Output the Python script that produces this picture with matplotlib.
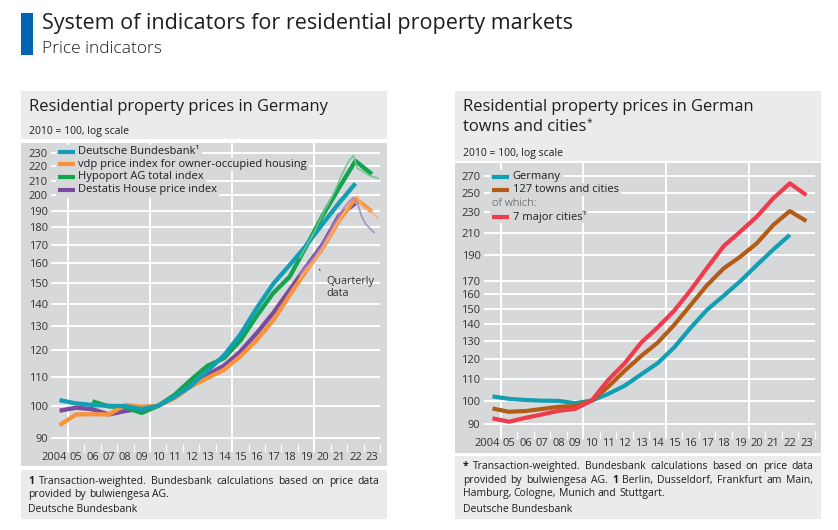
import matplotlib
matplotlib.use('Agg')
import matplotlib.pyplot as plt
from matplotlib.patches import Rectangle
from matplotlib.lines import Line2D
from matplotlib.ticker import NullLocator, NullFormatter
import matplotlib.transforms as mtransforms

plt.rcParams['font.family'] = ['Open Sans', 'DejaVu Sans']

# ---------------- data, 2010 = 100 ----------------
years = list(range(2004, 2024))

# left chart: annual averages
bundesbank = [101.9, 100.8, 100.3, 100.0, 99.9, 98.9, 100.0, 103.0, 106.8, 112.3,
              118.0, 126.5, 138.0, 149.5, 159.0, 169.5, 182.0, 195.0, 208.0]          # 2004-2022
vdp = [93.8, 97.2, 97.3, 97.2, 100.3, 99.7, 100.0, 102.6, 106.6, 109.6,
       112.6, 117.7, 124.3, 132.5, 144.0, 156.0, 168.0, 184.0, 198.0, 189.5]          # 2004-2023
hypoport_years = list(range(2006, 2024))
hypoport = [101.5, 99.8, 99.5, 97.7, 100.0, 103.7, 109.0, 114.1, 117.0,
            124.0, 134.5, 145.0, 153.0, 169.0, 187.0, 205.0, 224.0, 214.5]            # 2006-2023
destatis = [98.4, 99.4, 98.9, 97.2, 98.3, 99.1, 100.0, 103.1, 107.5, 110.8,
            114.1, 119.6, 127.1, 135.8, 146.5, 158.0, 170.0, 187.0, 195.0]            # 2004-2022

# left chart: quarterly data
quarters = [f'{y}Q{q}' for y in range(2019, 2024) for q in range(1, 5)]
vdp_q = [152, 155, 157.5, 160, 163, 166, 170, 174, 178, 182, 186, 190,
         195.5, 198.5, 199.5, 193.5, 191.5, 190.5, 188, 185.5]
hypoport_q = [163, 167, 171, 175, 180, 185, 190, 195, 200, 206, 213, 219,
              224.5, 228, 218.5, 217, 215, 213.5, 212.5, 211.5]
destatis_q = [154, 157, 159.5, 162, 165, 168, 172, 176, 181, 185, 189.5, 193,
              196, 198.5, 195, 186.5, 182, 179.5, 177]                                 # to 2023Q3

# right chart
germany = bundesbank
towns127 = [96.6, 95.2, 95.5, 96.4, 97.3, 97.6, 100.0, 106.3, 114.1, 121.8,
            129.2, 139.7, 152.6, 166.7, 179.4, 188.9, 200.4, 217.3, 231.1, 221.1]
cities7 = [92.5, 91.1, 92.7, 94.1, 95.6, 96.4, 100.0, 109.5, 117.9, 129.2,
           138.2, 148.8, 163.0, 180.0, 198.0, 211.0, 225.4, 244.5, 261.2, 248.0]

ticks_left = [90, 100, 110, 120, 130, 140, 150, 160, 170, 180, 190, 200, 210, 220, 230]
ticks_right = [90, 100, 110, 120, 130, 140, 150, 160, 170, 190, 210, 230, 250, 270]
year_labels = ['2004'] + [f'{y % 100:02d}' for y in range(2005, 2024)]

# ---------------- colours ----------------
BLUE = '#0066b3'
CHART_BG = '#d7d8da'
BOX_BG = '#ebebeb'
TXT = '#1e1e1e'
TICK = '#333333'
TEAL = '#139fb3'
ORANGE = '#f8923b'
GREEN = '#13a450'
PURPLE = '#7a4a9e'
ORANGE_L = '#fbb27a'
GREEN_L = '#6cc68c'
PURPLE_L = '#a687c6'
BROWN = '#b25c16'
RED = '#ef3b4c'

FOOT = 7.5

W, H = 838, 530
fig = plt.figure(figsize=(W / 100, H / 100), dpi=100)
renderer = fig.canvas.get_renderer()


def fx(x):
    return x / W


def fy(y):
    return 1 - y / H


def box(x0, y0, x1, y1, color, z=-1):
    fig.add_artist(Rectangle((fx(x0), fy(y1)), (x1 - x0) / W, (y1 - y0) / H,
                             transform=fig.transFigure, fc=color, ec='none', zorder=z))


def txt(x, y, s, **kw):
    kw.setdefault('color', TXT)
    kw.setdefault('va', 'baseline')
    return fig.text(fx(x), fy(y), s, **kw)


def wpx(t):
    return t.get_window_extent(renderer).width


def words_line(x0, y, words, size, x1=None):
    # words = [(word, weight)], spread to x1 if given (justified)
    arts = [txt(x0, y, w, fontsize=size, fontweight=wt) for w, wt in words]
    widths = [wpx(a) for a in arts]
    if x1 is None:
        a = txt(0, 0, 'n n', fontsize=size)
        b = txt(0, 0, 'nn', fontsize=size)
        gap = wpx(a) - wpx(b)
        a.remove()
        b.remove()
    else:
        gap = (x1 - x0 - sum(widths)) / (len(arts) - 1)
    x = x0
    for a, wd in zip(arts, widths):
        a.set_x(fx(x))
        x += wd + gap


def plain(s):
    return [(w, 'normal') for w in s.split()]


def legend_row(xs0, xs1, xt, y, color, label, half=6.6, lo=None):
    t = txt(xt, y, label, fontsize=8, va='center', zorder=6)
    wd = wpx(t)
    box(xs0 - 2, y - half, xt + wd + 2, y + (lo if lo else half), CHART_BG, z=5)
    if color:
        fig.add_artist(Line2D([fx(xs0), fx(xs1)], [fy(y), fy(y)], color=color, lw=3,
                              solid_capstyle='butt', zorder=6))
    return t


def setup_axes(ax, ylim, ticks, bottom_off):
    ax.patch.set_visible(False)
    for s in ax.spines.values():
        s.set_visible(False)
    ax.set_yscale('log')
    ax.set_xlim(2004, 2024)
    ax.set_ylim(*ylim)
    ax.set_yticks(ticks)
    ax.set_yticklabels([str(t) for t in ticks])
    ax.yaxis.set_minor_locator(NullLocator())
    ax.yaxis.set_minor_formatter(NullFormatter())
    ax.tick_params(axis='y', length=0, pad=2.6, labelsize=8, labelcolor=TICK)
    ax.grid(axis='y', color='white', lw=1.4)
    ax.set_axisbelow(True)
    for v in (2005, 2010, 2015, 2020):
        ax.axvline(v, color='white', lw=1.4, zorder=1)
    ax.set_xticks(range(2005, 2025))
    ax.set_xticklabels([])
    ax.tick_params(axis='x', direction='in', length=5.5, width=0.9, color='white')
    tr = mtransforms.blended_transform_factory(ax.transData, ax.transAxes)
    for yr, lab in zip(years, year_labels):
        if yr == 2004:
            ax.text(2004.96, bottom_off, lab, transform=tr, ha='right', va='center',
                    fontsize=8, color=TICK)
        else:
            ax.text(yr + 0.5, bottom_off, lab, transform=tr, ha='center', va='center',
                    fontsize=8, color=TICK)


def mid(ys):
    return [y + 0.5 for y in ys]


def q_pos(lab):
    y, q = lab.split('Q')
    return int(y) + (int(q) - 0.5) / 4


# ---------------- header ----------------
box(21, 13, 33, 54.5, BLUE)
txt(42, 29.3, 'System of indicators for residential property markets', fontsize=15.5)
txt(42, 53.3, 'Price indicators', fontsize=12.5, fontweight='light')

# ---------------- left panel ----------------
box(21, 91, 386.7, 138.5, BOX_BG)
box(21, 143.3, 386.7, 466, CHART_BG)
box(21, 469.5, 386.7, 518.5, BOX_BG)
txt(29, 111, 'Residential property prices in Germany', fontsize=11.9)
txt(29, 134.3, '2010 = 100, log scale', fontsize=7.5)

ax1 = fig.add_axes([fx(51.3), fy(452), 328.8 / W, 308.7 / H])
setup_axes(ax1, (85.9, 237.4), ticks_left, -5 / 308.7)

ax1.plot(mid(years[:len(destatis)]), destatis, color=PURPLE, lw=3.1, solid_capstyle='butt', zorder=2)
ax1.plot(mid(hypoport_years), hypoport, color=GREEN, lw=3.1, solid_capstyle='butt', zorder=2)
ax1.plot(mid(years), vdp, color=ORANGE, lw=3.1, solid_capstyle='butt', zorder=2)
ax1.plot(mid(years[:len(bundesbank)]), bundesbank, color=TEAL, lw=3.1, solid_capstyle='butt', zorder=2)
ax1.plot([q_pos(q) for q in quarters], hypoport_q, color=GREEN_L, lw=1.2, alpha=0.9, zorder=3)
ax1.plot([q_pos(q) for q in quarters], vdp_q, color=ORANGE_L, lw=1.2, alpha=0.9, zorder=3)
ax1.plot([q_pos(q) for q in quarters[:len(destatis_q)]], destatis_q, color=PURPLE_L, lw=1.2,
         alpha=0.9, zorder=3)

ax1.annotate('', xy=(2020.19, 157.9), xytext=(2020.46, 155.1),
             arrowprops=dict(arrowstyle='-', lw=0.7, color='#333333'))
txt(326, 281.7, 'Quarterly', fontsize=7.8, va='center', color='#333333')
txt(326, 294, 'data', fontsize=7.8, va='center', color='#333333')

legend_row(58.3, 75, 78.3, 151.7, TEAL, 'Deutsche Bundesbank¹')
legend_row(58.3, 75, 78.3, 164.3, ORANGE, 'vdp price index for owner-occupied housing')
legend_row(58.3, 75, 78.3, 176.9, GREEN, 'Hypoport AG total index')
legend_row(58.3, 75, 78.3, 189.5, PURPLE, 'Destatis House price index', lo=8)

words_line(28.3, 484, [('1', 'bold')] + plain('Transaction-weighted. Bundesbank calculations based on price data'),
           FOOT, x1=379.3)
words_line(28.3, 496.6, plain('provided by bulwiengesa AG.'), FOOT)
txt(28.3, 512, 'Deutsche Bundesbank', fontsize=FOOT)

# ---------------- right panel ----------------
box(455, 91, 820.7, 161, BOX_BG)
box(455, 163.3, 820.7, 452.7, CHART_BG)
box(455, 456, 820.7, 518.5, BOX_BG)
txt(462.7, 111, 'Residential property prices in German', fontsize=11.9)
t2 = txt(462.7, 131, 'towns and cities', fontsize=11.9)
txt(462.7 + wpx(t2) + 0.8, 125, '*', fontsize=7.5)
txt(462.7, 155.7, '2010 = 100, log scale', fontsize=7.5)

ax2 = fig.add_axes([fx(484.2), fy(439.3), 330.4 / W, (439.3 - 163.3) / H])
setup_axes(ax2, (84.3, 285.4), ticks_right, -4.7 / 276)

ax2.plot(mid(years[:len(germany)]), germany, color=TEAL, lw=3, solid_capstyle='butt', zorder=2)
ax2.plot(mid(years), towns127, color=BROWN, lw=3, solid_capstyle='butt', zorder=2)
ax2.plot(mid(years), cities7, color=RED, lw=3, solid_capstyle='butt', zorder=2)

legend_row(491.7, 509.3, 512.7, 176.7, TEAL, 'Germany')
legend_row(491.7, 509.3, 512.7, 189.6, BROWN, '127 towns and cities')
t = txt(491.7, 203.4, 'of which:', fontsize=8, va='center', zorder=6, color='#444444',
        fontweight='light')
box(489.7, 196.2, 491.7 + wpx(t) + 2, 210.4, CHART_BG, z=5)
legend_row(491.7, 509.3, 512.7, 216.9, RED, '7 major cities¹', half=6.5)

words_line(462.7, 469, [('*', 'bold')] + plain('Transaction-weighted. Bundesbank calculations based on price data'),
           FOOT, x1=813.3)
words_line(462.7, 483, plain('provided by bulwiengesa AG.') + [('1', 'bold')] +
           plain('Berlin, Dusseldorf, Frankfurt am Main,'), FOOT, x1=813.3)
words_line(462.7, 495.7, plain('Hamburg, Cologne, Munich and Stuttgart.'), FOOT)
txt(462.7, 512, 'Deutsche Bundesbank', fontsize=FOOT)

fig.savefig('out.png', dpi=100)
